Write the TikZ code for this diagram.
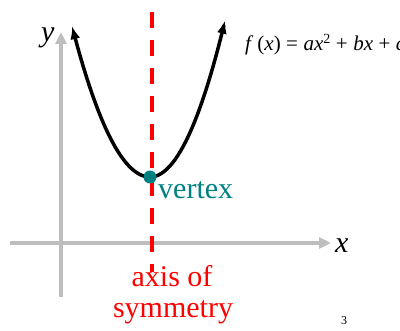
\documentclass[tikz,border=0pt]{standalone}
\usepackage{fontspec}
\setmainfont{Liberation Serif}
\usetikzlibrary{arrows.meta}
\definecolor{axisgray}{RGB}{190,190,190}
\definecolor{vtxteal}{RGB}{0,128,128}
\definecolor{symred}{RGB}{255,0,0}
\begin{document}
\begin{tikzpicture}[x=1pt,y=-1pt,
  axisline/.style={axisgray, line width=4pt, -{Triangle[length=12pt,width=11pt]}},
  curve/.style={black, line width=3.5pt, {Latex[length=13pt,width=10pt]}-{Latex[length=13pt,width=10pt]}},
  symline/.style={symred, line width=4pt, dash pattern=on 16pt off 12pt},
  lbl/.style={inner sep=0pt, anchor=base, font=\fontsize{30}{32}\selectfont}]
\useasboundingbox (0,0) rectangle (400,331);
\clip (0,0) rectangle (400,331);
% axes
\coordinate (xs) at (10,243);
\coordinate (xe) at (331,243);
\coordinate (ys) at (61,297);
\coordinate (ye) at (61,32);
\draw[axisline] (xs) -- (xe);
\draw[axisline] (ys) -- (ye);
\node[lbl, anchor=base west] (ylab) at (41,42) {\textit{y}};
\node[lbl, anchor=base west] (xlab) at (335,253) {\textit{x}};
% axis of symmetry
\coordinate (st) at (152,12);
\coordinate (sb) at (152,272);
\draw[symline] (st) -- (sb);
% parabola
\draw[curve] plot[domain=-78:75, samples=80, smooth] ({150+\x},{177-((\x<0)?0.0248:0.0278)*\x*\x});
\coordinate (v) at (150,177);
\fill[vtxteal] (v) circle (6.5pt);
\node[lbl, anchor=base west, text=vtxteal] (vlab) at (158,199) {vertex};
\node[lbl, text=symred] (a1) at (172,287) {axis of};
\node[lbl, text=symred] (a2) at (173,318) {symmetry};
% formula
\node[inner sep=0pt, anchor=base west, font=\fontsize{21}{23}\selectfont] (f) at (245,51)
  {\textit{f}\hspace{4pt}(\textit{x})\hspace{5.5pt}=\hspace{5.5pt}\textit{ax}\raisebox{7pt}{\fontsize{14}{14}\selectfont 2}\hspace{5.5pt}+\hspace{5.5pt}\textit{bx}\hspace{5.5pt}+\hspace{5.5pt}\textit{c}};
\node[inner sep=0pt, anchor=base, font=\fontsize{12}{12}\selectfont] (pg) at (344,325) {3};
\end{tikzpicture}
\end{document}
